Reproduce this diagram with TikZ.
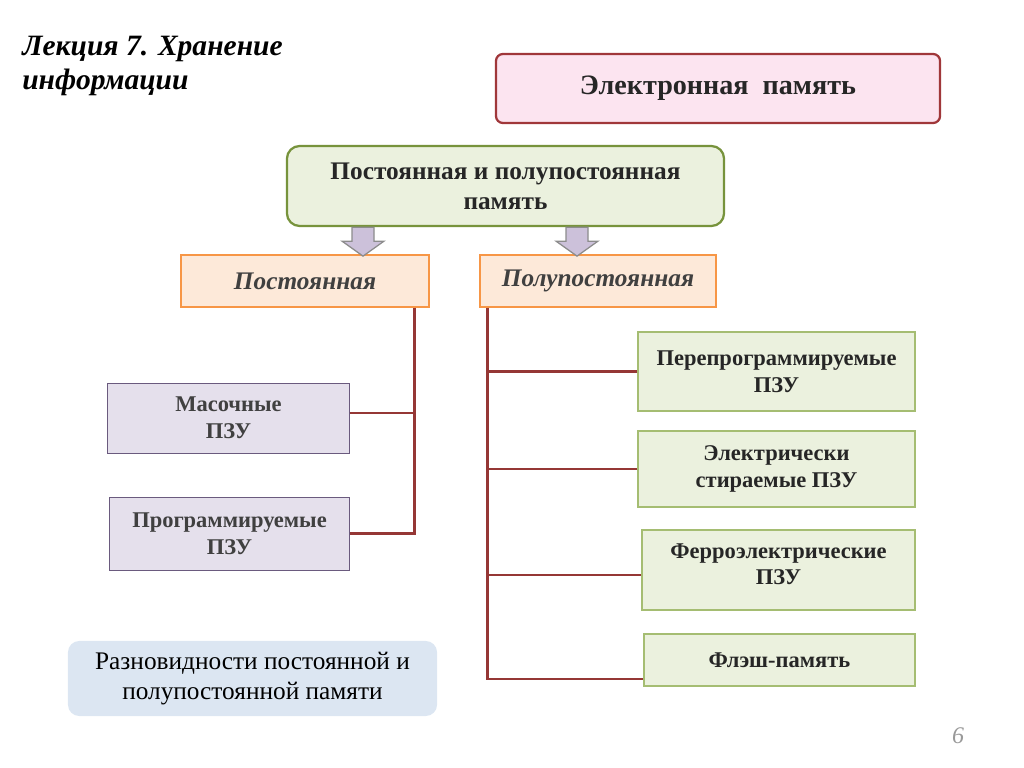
\documentclass[tikz,border=0pt]{standalone}
\usepackage{fontspec}
\setmainfont{Liberation Serif}
\usepackage{xcolor}
\usepackage{tikz}
\usetikzlibrary{positioning}
\definecolor{pinkfill}{HTML}{FCE4F0}
\definecolor{darkred}{HTML}{A0373A}
\definecolor{greenfill}{HTML}{EBF1DE}
\definecolor{olive}{HTML}{77933C}
\definecolor{lightolive}{HTML}{A5BD72}
\definecolor{orangefill}{HTML}{FDE9D9}
\definecolor{orangeline}{HTML}{F79646}
\definecolor{lilacfill}{HTML}{E5E0EC}
\definecolor{lilacline}{HTML}{6A5A7E}
\definecolor{linkred}{HTML}{953735}
\definecolor{arrowfill}{HTML}{CCC1DA}
\definecolor{arrowline}{HTML}{8C8C8C}
\definecolor{notefill}{HTML}{DCE6F2}
\definecolor{textgray}{HTML}{262626}

\begin{document}
\begin{tikzpicture}[x=0.025cm, y=-0.025cm,
    box/.style={draw, align=center, text=textgray, font=\bfseries\fontsize{16}{19}\selectfont},
    topbox/.style={box, fill=pinkfill, draw=darkred, line width=1.6pt, rounded corners=5pt,
        font=\bfseries\fontsize{20}{24}\selectfont},
    mainbox/.style={box, fill=greenfill, draw=olive, line width=1.6pt, rounded corners=9pt,
        font=\bfseries\fontsize{18}{21.5}\selectfont},
    kindbox/.style={box, fill=orangefill, draw=orangeline, line width=0.8pt,
        font=\bfseries\itshape\fontsize{18}{21}\selectfont, text=black!75},
    leftbox/.style={box, fill=lilacfill, draw=lilacline, line width=0.7pt, text=black!75},
    rightbox/.style={box, fill=greenfill, draw=lightolive, line width=0.9pt},
    link/.style={draw=linkred, line width=1.6pt},
    blockarrow/.style={fill=arrowfill, draw=arrowline, line width=0.9pt}]
    \useasboundingbox (0,0) rectangle (1024,768);

    \node[anchor=north west, align=left, inner sep=0pt, font=\bfseries\itshape\fontsize{21}{24}\selectfont]
        (title) at (22,36) {Лекция 7. Хранение\\информации};

    \node[topbox, minimum width=11.1cm, minimum height=1.725cm] (em) at (718,88.5)
        {Электронная~~память};
    \node[mainbox, minimum width=10.925cm, minimum height=2cm] (pp) at (505.5,186)
        {Постоянная и полупостоянная\\память};

    \node[kindbox, minimum width=6.2cm, minimum height=1.3cm] (post) at (305,281) {Постоянная};
    \node[kindbox, minimum width=5.9cm, minimum height=1.3cm] (polu) at (598,281) {Полупостоянная};

    \node[leftbox, minimum width=6.025cm, minimum height=1.75cm] (mas) at (228.5,418) {Масочные\\ПЗУ};
    \node[leftbox, minimum width=5.975cm, minimum height=1.825cm] (prog) at (229.5,533.5) {Программируемые\\ПЗУ};

    \node[rightbox, minimum width=6.925cm, minimum height=1.975cm] (perep) at (776.5,371.5)
        {Перепрограммируемые\\ПЗУ};
    \node[rightbox, minimum width=6.925cm, minimum height=1.9cm] (elek) at (776.5,469)
        {Электрически\\стираемые ПЗУ};
    \node[rightbox, minimum width=6.825cm, minimum height=2cm, text depth=0.3cm] (ferro) at (778.5,570)
        {Ферроэлектрические\\ПЗУ};
    \node[rightbox, minimum width=6.775cm, minimum height=1.3cm] (flash) at (779.5,660) {Флэш-память};

    \node[fill=notefill, rounded corners=8pt, align=center, minimum width=9.225cm, minimum height=1.875cm,
        font=\fontsize{18}{21}\selectfont] (note) at (252.5,678.5)
        {Разновидности постоянной и\\полупостоянной памяти};

    \node[text=black!40, font=\itshape\fontsize{17}{20}\selectfont] (page) at (958,736) {6};

    % block arrows
    \coordinate (ax1) at (363,0);
    \coordinate (ax2) at (577,0);
    \draw[blockarrow] (pp.south -| ax1) ++(-11,0) -- ++(22,0) -- ++(0,14) -- ++(10,0) -- ++(-21,15)
        -- ++(-21,-15) -- ++(10,0) -- cycle;
    \draw[blockarrow] (pp.south -| ax2) ++(-11,0) -- ++(22,0) -- ++(0,14) -- ++(10,0) -- ++(-21,15)
        -- ++(-21,-15) -- ++(10,0) -- cycle;

    % tree lines
    \coordinate (tl) at ([xshift=-0.375cm]post.south east);
    \coordinate (tr) at ([xshift=0.2cm]polu.south west);
    \draw[link] (tl) |- (prog.east);
    \draw[link] ([yshift=0.125cm]mas.east) -- ([yshift=0.125cm]mas.east -| tl);
    \draw[link] (tr) |- ([yshift=0.2cm]flash.south west);
    \draw[link] (perep.west) -- (perep.west -| tr);
    \draw[link] (elek.west) -- (elek.west -| tr);
    \draw[link] ([yshift=-0.125cm]ferro.west) -- ([yshift=-0.125cm]ferro.west -| tr);
\end{tikzpicture}
\end{document}
